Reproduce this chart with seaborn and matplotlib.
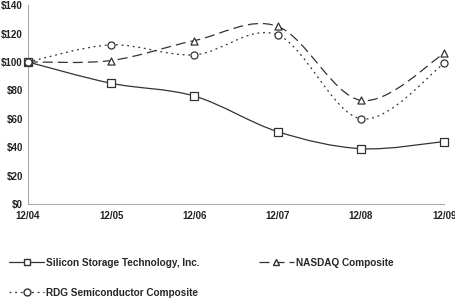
import numpy as np
import matplotlib
matplotlib.use("Agg")
import matplotlib.pyplot as plt
from matplotlib.path import Path
from matplotlib.patches import PathPatch
from matplotlib.lines import Line2D
import seaborn as sns

sns.set_style("white")
plt.rcParams['font.family'] = ['Liberation Sans', 'DejaVu Sans']

# data
periods = ["12/04", "12/05", "12/06", "12/07", "12/08", "12/09"]
sst = [100, 85, 76, 51, 39, 44]
nasdaq = [100, 101, 115, 125, 73, 106]
rdg = [100, 112, 105, 119, 60, 99]

series = [
    ("Silicon Storage Technology, Inc.", sst, "s", (None, None)),
    ("NASDAQ Composite", nasdaq, "^", (0, (8, 4))),
    ("RDG Semiconductor Composite", rdg, "o", (0, (1.5, 3))),
]
col = "#333333"


def smooth_path(xs, ys):
    # catmull-rom style bezier through the data points (like Excel smoothed lines)
    pts = np.column_stack([xs, ys]).astype(float)
    n = len(pts)
    verts = [pts[0]]
    codes = [Path.MOVETO]
    for i in range(n - 1):
        p0 = pts[i - 1] if i > 0 else pts[i]
        p1, p2 = pts[i], pts[i + 1]
        p3 = pts[i + 2] if i + 2 < n else pts[i + 1]
        c1 = p1 + (p2 - p0) / 6
        c2 = p2 - (p3 - p1) / 6
        verts += [c1, c2, p2]
        codes += [Path.CURVE4] * 3
    return Path(verts, codes)


fig = plt.figure(figsize=(4.56, 2.98), dpi=100)
ax = fig.add_axes([0.061, 0.315, 0.913, 0.668])

x = np.arange(len(periods))
handles = []
for name, vals, mk, ls in series:
    lstyle = "-" if ls[0] is None else ls
    ax.add_patch(PathPatch(smooth_path(x, vals), fill=False, edgecolor=col,
                           linewidth=0.9, linestyle=lstyle))
    sns.scatterplot(x=x, y=vals, marker=mk, s=26, facecolor="white",
                    edgecolor=col, linewidth=0.9, ax=ax, zorder=3, clip_on=False)
    handles.append(Line2D([], [], color=col, linewidth=0.9, linestyle=lstyle,
                          marker=mk, markersize=5, markerfacecolor="white",
                          markeredgecolor=col, label=name))

ax.set_xlim(0, 5)
ax.set_ylim(0, 140)
ax.set_xticks(x)
ax.set_xticklabels(periods)
ax.set_yticks(range(0, 141, 20))
ax.set_yticklabels([f"${v}" for v in range(0, 141, 20)])
for lab in ax.get_xticklabels() + ax.get_yticklabels():
    lab.set_fontsize(7)
    lab.set_fontweight("bold")
    lab.set_color("#222222")
ax.tick_params(axis="x", direction="in", length=3, color="#aaaaaa", pad=5)
ax.tick_params(axis="y", direction="out", length=2, color="#aaaaaa", pad=1.5)
sns.despine(ax=ax)
for s in ["left", "bottom"]:
    ax.spines[s].set_color("#aaaaaa")
    ax.spines[s].set_linewidth(0.8)

order = [handles[0], handles[2], handles[1]]
leg = fig.legend(handles=order, labels=[h.get_label() for h in order],
                 loc="upper left", bbox_to_anchor=(0.0, 0.165), ncol=2,
                 frameon=False, handlelength=3.5, handletextpad=0.2,
                 columnspacing=5.9, labelspacing=2.0,
                 prop={"size": 7.2, "weight": "bold"})

fig.savefig("out.png", dpi=100)
